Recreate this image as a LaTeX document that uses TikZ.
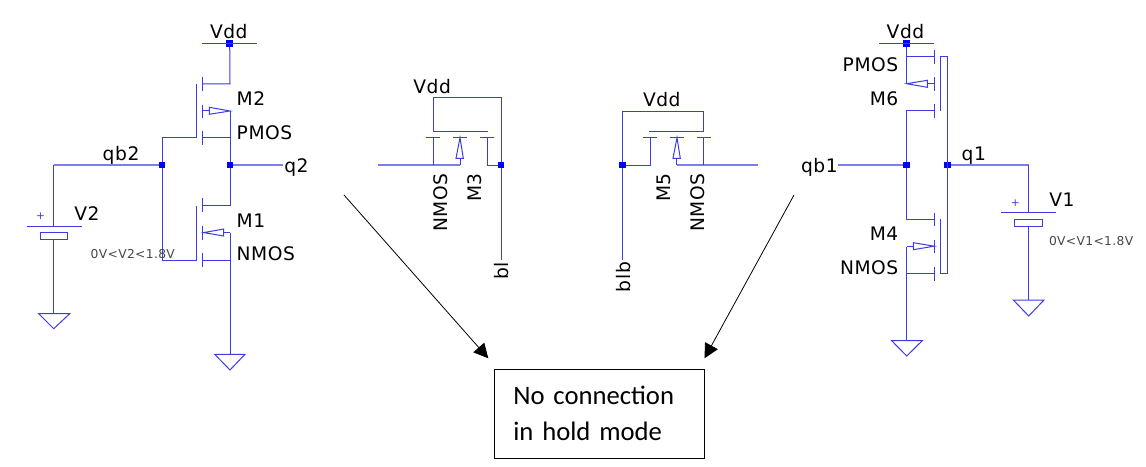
\documentclass[tikz,border=0pt]{standalone}
\usepackage{fontspec}
\usetikzlibrary{arrows.meta}
\newfontfamily\ltfont[LetterSpace=3]{DejaVu Sans}
\newfontfamily\boxfont{Carlito}
\definecolor{wire}{RGB}{60,60,225}
\definecolor{softwire}{RGB}{125,125,240}
\definecolor{junction}{RGB}{0,0,255}
\tikzset{
  x=0.75pt,y=-0.75pt,
  wirepath/.style={draw=wire,line width=0.75pt,line cap=butt,line join=miter},
  thickwire/.style={draw=softwire,line width=1.25pt},
  dot/.style={fill=junction,draw=none,rectangle,minimum size=5.2pt,inner sep=0pt,outer sep=0pt},
  lab/.style={font=\ltfont\fontsize{14}{16}\selectfont,text=black,inner sep=0pt,outer sep=0pt},
  labw/.style={lab,anchor=base west},
  labe/.style={lab,anchor=base east},
  labr/.style={lab,rotate=90,anchor=base east},
  small/.style={font=\ltfont\fontsize{9.2}{10}\selectfont,text=black!72,inner sep=0pt,outer sep=0pt,anchor=base west},
  plusmark/.style={font=\ltfont\fontsize{8}{9}\selectfont,text=wire,inner sep=0pt,outer sep=0pt},
  callout/.style={-{Triangle[length=10.8pt,width=10.8pt]},black,line width=0.6pt},
  notebox/.style={draw=black,line width=0.8pt,fill=white,minimum width=157.5pt,minimum height=66.75pt,
    text width=129pt,inner xsep=14.25pt,inner ysep=0pt,align=left,
    font=\boxfont\fontsize{20}{27}\selectfont},
}
\begin{document}
\begin{tikzpicture}
\useasboundingbox (0,0) rectangle (1146,467);
\fill[white] (0,0) rectangle (1146,467);

% ---------- named points
\coordinate (vddLa) at (202,43.3);   \coordinate (vddLb) at (257,43.3);
\coordinate (m2s) at (230,84);       \coordinate (m2b) at (230,111);
\coordinate (m2d) at (230,137.7);    \coordinate (m2g) at (196.3,137.7);
\coordinate (m2gt) at (196.3,84);
\coordinate (m1d) at (230,205.7);    \coordinate (m1b) at (230,232.7);
\coordinate (m1s) at (230,260);      \coordinate (m1g) at (196.3,260);
\coordinate (m1gt) at (196.3,205.7);
\coordinate (gndL) at (230,354.3);
\coordinate (qb2e) at (53.7,165);    \coordinate (v2top) at (53.7,226);
\coordinate (v2bot) at (53.7,239.7); \coordinate (gndV2) at (53.7,313.7);
\coordinate (g2a) at (162,137.7);    \coordinate (g1a) at (162,260);
\coordinate (q2e) at (283,165);

\node[dot] (vddL) at (229.7,43.3) {};
\node[dot] (qb2) at (162,165) {};
\node[dot] (q2) at (230,165) {};
\node[dot] (bl) at (501,165) {};
\node[dot] (blb) at (622.3,165) {};
\node[dot] (vddR) at (906.7,43.3) {};
\node[dot] (qb1) at (906.7,165) {};
\node[dot] (q1) at (947.3,165) {};

% ---------- left inverter
\draw[wirepath] (vddLa) -- (vddLb);
\draw[wirepath] (vddL) -- (m2s) -- (202.7,84);
\draw[wirepath] (202.7,137.7) -- (m2d) -- (q2);
\draw[wirepath] (m2b) -- (q2);
\draw[wirepath] (q2) -- (m1d) -- (202.7,205.7);
\draw[wirepath] (m1b) -- (gndL);
\draw[wirepath] (202.7,260) -- (m1s);
\draw[thickwire] (q2) -- (q2e);
\foreach \a/\b in {77/91,105/118,131/145,198/212,226/240,253/267}
  \draw[wirepath] (202.7,\a) -- (202.7,\b);
\draw[wirepath] (m2gt) -- (m2g) -- (g2a) -- (qb2);
\draw[wirepath] (m1gt) -- (m1g) -- (g1a) -- (qb2);
\draw[thickwire] (qb2e) -- (qb2);
\draw[wirepath] (qb2e) -- (v2top);
% M2 body arrow
\draw[wirepath] (202.7,111) -- (209.3,111);
\draw[wirepath] (230,111) -- (209.3,107.3) -- (209.3,114.3) -- cycle;
% M1 body arrow
\draw[wirepath] (203.7,232.6) -- (223.7,229) -- (223.7,236) -- cycle;
\draw[wirepath] (223.7,232.7) -- (m1b);
% ground
\draw[wirepath] (214.7,354.3) -- (245,354.3) -- (230,370) -- cycle;
% V2
\draw[wirepath] (27,226) -- (81.7,226);
\draw[wirepath] (40.7,232.7) rectangle (67.7,239.7);
\draw[wirepath] (v2bot) -- (gndV2);
\draw[wirepath] (38.7,313.7) -- (69.7,313.7) -- (53.7,328.7) -- cycle;
\node[plusmark] (plus2) at (40.7,215.7) {+};

\node[labw] (tVddL) at (210,39) {Vdd};
\node[labw] (tM2) at (236.7,105.7) {M2};
\node[labw] (tP2) at (236.7,139) {PMOS};
\node[labw] (tqb2) at (102.7,160.7) {qb2};
\node[labw] (tq2) at (284.3,172.7) {q2};
\node[labw] (tV2) at (74.3,220.7) {V2};
\node[labw] (tM1) at (236.7,227.3) {M1};
\node[labw] (tN1) at (236.7,260.7) {NMOS};
\node[small] (tr2) at (90.7,258.3) {0V<V2<1.8V};

% ---------- M3 pass transistor
\coordinate (m3l) at (378.3,165);  \coordinate (m3a) at (433,165);
\coordinate (m3m) at (460.3,165);  \coordinate (m3gl) at (433,131);
\coordinate (m3gr) at (487.7,131); \coordinate (m3t) at (433,97.7);
\coordinate (m3u) at (501,97.7);   \coordinate (m3end) at (501,260);
\coordinate (m3r) at (487.3,165);  \coordinate (m3rt) at (487.3,137.7);
\draw[thickwire] (m3l) -- (m3m);
\draw[wirepath] (m3a) -- (433,137.7);
\draw[wirepath] (m3m) -- (460.3,158.3);
\draw[wirepath] (m3gr) -- (m3gl) -- (m3t) -- (m3u) -- (bl);
\draw[wirepath] (bl) -- (m3end);
\draw[wirepath] (m3rt) -- (m3r) -- (bl);
\draw[wirepath] (426,137.7) -- (440,137.7);
\draw[wirepath] (453.3,137.7) -- (467.3,137.7);
\draw[wirepath] (480.3,137.7) -- (494.3,137.7);
\draw[wirepath] (460,137.7) -- (456,158.3) -- (463.3,158.3) -- cycle;
\node[labw] (tVdd3) at (413.3,93.3) {Vdd};
\node[labr] (tN3) at (447.3,173.3) {NMOS};
\node[labr] (tM3) at (481,173.3) {M3};
\node[labr] (tbl) at (508.3,262) {bl};

% ---------- M5 pass transistor
\coordinate (m5r) at (758.3,165);  \coordinate (m5a) at (703.7,165);
\coordinate (m5m) at (676.7,165);  \coordinate (m5gr) at (703.7,131);
\coordinate (m5gl) at (649.3,131); \coordinate (m5t) at (703.7,111.3);
\coordinate (m5u) at (622.3,111.3);\coordinate (m5end) at (622.3,260);
\coordinate (m5l) at (650,165);    \coordinate (m5lt) at (650,137.7);
\draw[thickwire] (m5m) -- (m5r);
\draw[wirepath] (m5a) -- (703.7,137.7);
\draw[wirepath] (m5m) -- (676.7,158.3);
\draw[wirepath] (m5gl) -- (m5gr) -- (m5t) -- (m5u) -- (blb);
\draw[wirepath] (blb) -- (m5end);
\draw[wirepath] (blb) -- (m5l) -- (m5lt);
\draw[wirepath] (643,137.7) -- (657,137.7);
\draw[wirepath] (669.7,137.7) -- (683.7,137.7);
\draw[wirepath] (696.7,137.7) -- (710.7,137.7);
\draw[wirepath] (677,137.7) -- (673,158.3) -- (680.3,158.3) -- cycle;
\node[labw] (tVdd5) at (643,106.7) {Vdd};
\node[labr] (tM5) at (670,173.3) {M5};
\node[labr] (tN5) at (704,173.3) {NMOS};
\node[labr] (tblb) at (630,262) {blb};

% ---------- right inverter
\coordinate (m6s) at (906.7,56.7);  \coordinate (m6b) at (906.7,84);
\coordinate (m6d) at (906.7,111);   \coordinate (m4d) at (906.7,219.3);
\coordinate (m4b) at (906.7,246.7); \coordinate (m4s) at (906.7,273.7);
\coordinate (gndR) at (906.7,340.7);
\coordinate (qb1e) at (838.3,165);
\coordinate (gt) at (947.3,56.7);   \coordinate (gb) at (947.3,273.7);
\coordinate (v1a) at (1028.7,165);  \coordinate (v1top) at (1028.7,212.7);
\coordinate (v1bot) at (1028.7,226.3); \coordinate (gndV1) at (1028.7,300);
\draw[wirepath] (879.3,43.3) -- (934.3,43.3);
\draw[wirepath] (vddR) -- (m6s) -- (m6b);
\draw[wirepath] (m6s) -- (934,56.7);
\draw[wirepath] (934,111) -- (m6d) -- (qb1);
\draw[wirepath] (qb1) -- (m4d) -- (934,219.3);
\draw[wirepath] (m4b) -- (gndR);
\draw[wirepath] (m4s) -- (934,273.7);
\foreach \a/\b in {50/63.7,77.3/90.7,104.3/118.3,212.7/226,240/253.3,267/280.7}
  \draw[wirepath] (934,\a) -- (934,\b);
\draw[wirepath] (940.7,111) -- (940.7,56.7) -- (gt) -- (gb) -- (940.7,273.7) -- (940.7,219.3);
\draw[thickwire] (qb1e) -- (qb1);
\draw[thickwire] (q1) -- (v1a);
\draw[wirepath] (v1a) -- (v1top);
% M6 body arrow
\draw[wirepath] (906.7,83.7) -- (927.3,80.3) -- (927.3,87.3) -- cycle;
\draw[wirepath] (927.3,84) -- (934,84);
% M4 body arrow
\draw[wirepath] (934,246.2) -- (913.3,242.7) -- (913.3,249.7) -- cycle;
\draw[wirepath] (913.3,246.7) -- (m4b);
% grounds
\draw[wirepath] (891.7,340.7) -- (922.3,340.7) -- (906.7,356) -- cycle;
% V1
\draw[wirepath] (1001,212.7) -- (1056,212.7);
\draw[wirepath] (1014.7,219.3) rectangle (1042.3,226.3);
\draw[wirepath] (v1bot) -- (gndV1);
\draw[wirepath] (1013.3,300) -- (1044,300) -- (1028.7,316) -- cycle;
\node[plusmark] (plus1) at (1015.3,202.7) {+};

\node[labw] (tVddR) at (886.7,39) {Vdd};
\node[labe] (tP6) at (898.3,71.7) {PMOS};
\node[labe] (tM6) at (898.3,105.7) {M6};
\node[labw] (tqb1) at (801,172.7) {qb1};
\node[labw] (tq1) at (961.7,160.7) {q1};
\node[labw] (tV1) at (1049.3,206.7) {V1};
\node[small] (tr1) at (1049,245) {0V<V1<1.8V};
\node[labe] (tM4) at (898.3,240.7) {M4};
\node[labe] (tN4) at (898.3,274.7) {NMOS};

% ---------- note and callouts
\node[notebox] (note) at (599.3,413.8) {No connection\\in hold mode};
\coordinate (ca) at (344,195);   \coordinate (cat) at (488.3,358.3);
\coordinate (cb) at (794,195);   \coordinate (cbt) at (704.5,358.3);
\draw[callout] (ca) -- (cat);
\draw[callout] (cb) -- (cbt);
\end{tikzpicture}
\end{document}
